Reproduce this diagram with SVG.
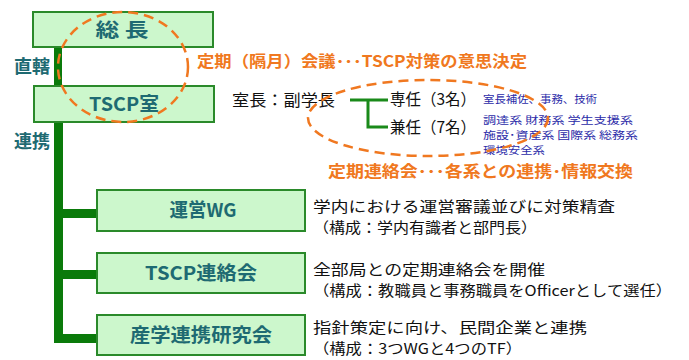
<svg xmlns="http://www.w3.org/2000/svg" width="689" height="360" viewBox="0 0 689 360">
<style>
.box{fill:#ccf7cc;stroke:#2a8a2a;stroke-width:2}
.bl{font-family:"Noto Sans CJK JP","Noto Sans",sans-serif;font-weight:bold;fill:#1e6a72;text-anchor:middle;font-size:19px}
.side{font-family:"Noto Sans CJK JP","Noto Sans",sans-serif;font-weight:bold;fill:#1e6a72;font-size:18px}
.desc{font-family:"Noto Sans CJK JP","Noto Sans",sans-serif;fill:#111;font-size:14.5px}
.org{font-family:"Noto Sans CJK JP","Noto Sans",sans-serif;font-weight:bold;fill:#f07820;font-size:16px}
.blue{font-family:"Noto Sans CJK JP","Noto Sans",sans-serif;fill:#2b2ba8;font-size:10.3px}
.blk{font-family:"Noto Sans CJK JP","Noto Sans",sans-serif;fill:#111;font-size:16px}
.trunk{fill:#0a7a0a}
.ell{fill:none;stroke:#f07820;stroke-width:2.5;stroke-dasharray:10 6}
</style>
<rect width="689" height="360" fill="#fff"/>
<g id="connectors">
<rect class="trunk" x="54" y="46" width="8" height="41"/>
<rect class="trunk" x="54" y="121" width="9" height="222"/>
<rect class="trunk" x="54" y="209" width="44" height="9"/>
<rect class="trunk" x="54" y="270" width="44" height="9"/>
<rect class="trunk" x="54" y="334" width="44" height="9"/>
<path d="M350 100 H388 M368 100 V127 H388" fill="none" stroke="#1a8a1a" stroke-width="3"/>
</g>
<g id="node-socho">
<rect class="box" x="33" y="12" width="180" height="35"/>
<text class="bl" x="122" y="37" textLength="53" lengthAdjust="spacingAndGlyphs">総 長</text>
</g>
<g id="node-tscp">
<rect class="box" x="34" y="86" width="180" height="36"/>
<text class="bl" x="124" y="111" font-weight="normal" textLength="70" lengthAdjust="spacingAndGlyphs">TSCP室</text>
</g>
<g id="node-wg">
<rect class="box" x="97" y="190" width="208" height="41"/>
<text class="bl" x="203" y="217" textLength="67" lengthAdjust="spacingAndGlyphs">運営WG</text>
</g>
<g id="node-renraku">
<rect class="box" x="97" y="253" width="208" height="40"/>
<text class="bl" x="201" y="280" textLength="112" lengthAdjust="spacingAndGlyphs">TSCP連絡会</text>
</g>
<g id="node-sangaku">
<rect class="box" x="97" y="315" width="208" height="40"/>
<text class="bl" x="201" y="342" textLength="142" lengthAdjust="spacingAndGlyphs">産学連携研究会</text>
</g>
<g id="labels">
<text class="side" x="14" y="73">直轄</text>
<text class="side" x="14" y="148">連携</text>
<text class="org" x="197" y="67" textLength="330" lengthAdjust="spacingAndGlyphs">定期（隔月）会議･･･TSCP対策の意思決定</text>
<text class="blk" x="232" y="106" font-size="17" textLength="103" lengthAdjust="spacingAndGlyphs">室長：副学長</text>
<text class="blk" x="390" y="105" textLength="86" lengthAdjust="spacingAndGlyphs">専任（3名）</text>
<text class="blk" x="390" y="133" textLength="86" lengthAdjust="spacingAndGlyphs">兼任（7名）</text>
<text class="blue" x="483" y="103" textLength="114" lengthAdjust="spacingAndGlyphs">室長補佐、事務、技術</text>
<text class="blue" x="483" y="124" textLength="150" lengthAdjust="spacingAndGlyphs">調達系 財務系 学生支援系</text>
<text class="blue" x="483" y="139" textLength="155" lengthAdjust="spacingAndGlyphs">施設･資産系 国際系 総務系</text>
<text class="blue" x="483" y="154" textLength="62" lengthAdjust="spacingAndGlyphs">環境安全系</text>
<text class="org" x="328" y="177" textLength="305" lengthAdjust="spacingAndGlyphs">定期連絡会･･･各系との連携･情報交換</text>
<text class="desc" x="313" y="212" textLength="302" lengthAdjust="spacingAndGlyphs">学内における運営審議並びに対策精査</text>
<text class="desc" x="313" y="233" textLength="224" lengthAdjust="spacingAndGlyphs">（構成：学内有識者と部門長）</text>
<text class="desc" x="313" y="275" textLength="232" lengthAdjust="spacingAndGlyphs">全部局との定期連絡会を開催</text>
<text class="desc" x="313" y="296" textLength="359" lengthAdjust="spacingAndGlyphs">（構成：教職員と事務職員をOfficerとして選任）</text>
<text class="desc" x="313" y="333" textLength="274" lengthAdjust="spacingAndGlyphs">指針策定に向け、民間企業と連携</text>
<text class="desc" x="313" y="354" textLength="209" lengthAdjust="spacingAndGlyphs">（構成：3つWGと4つのTF）</text>
</g>
<g id="ellipses">
<ellipse class="ell" cx="123" cy="67" rx="65" ry="55"/>
<ellipse class="ell" cx="428" cy="118" rx="120" ry="38"/>
</g>
</svg>
